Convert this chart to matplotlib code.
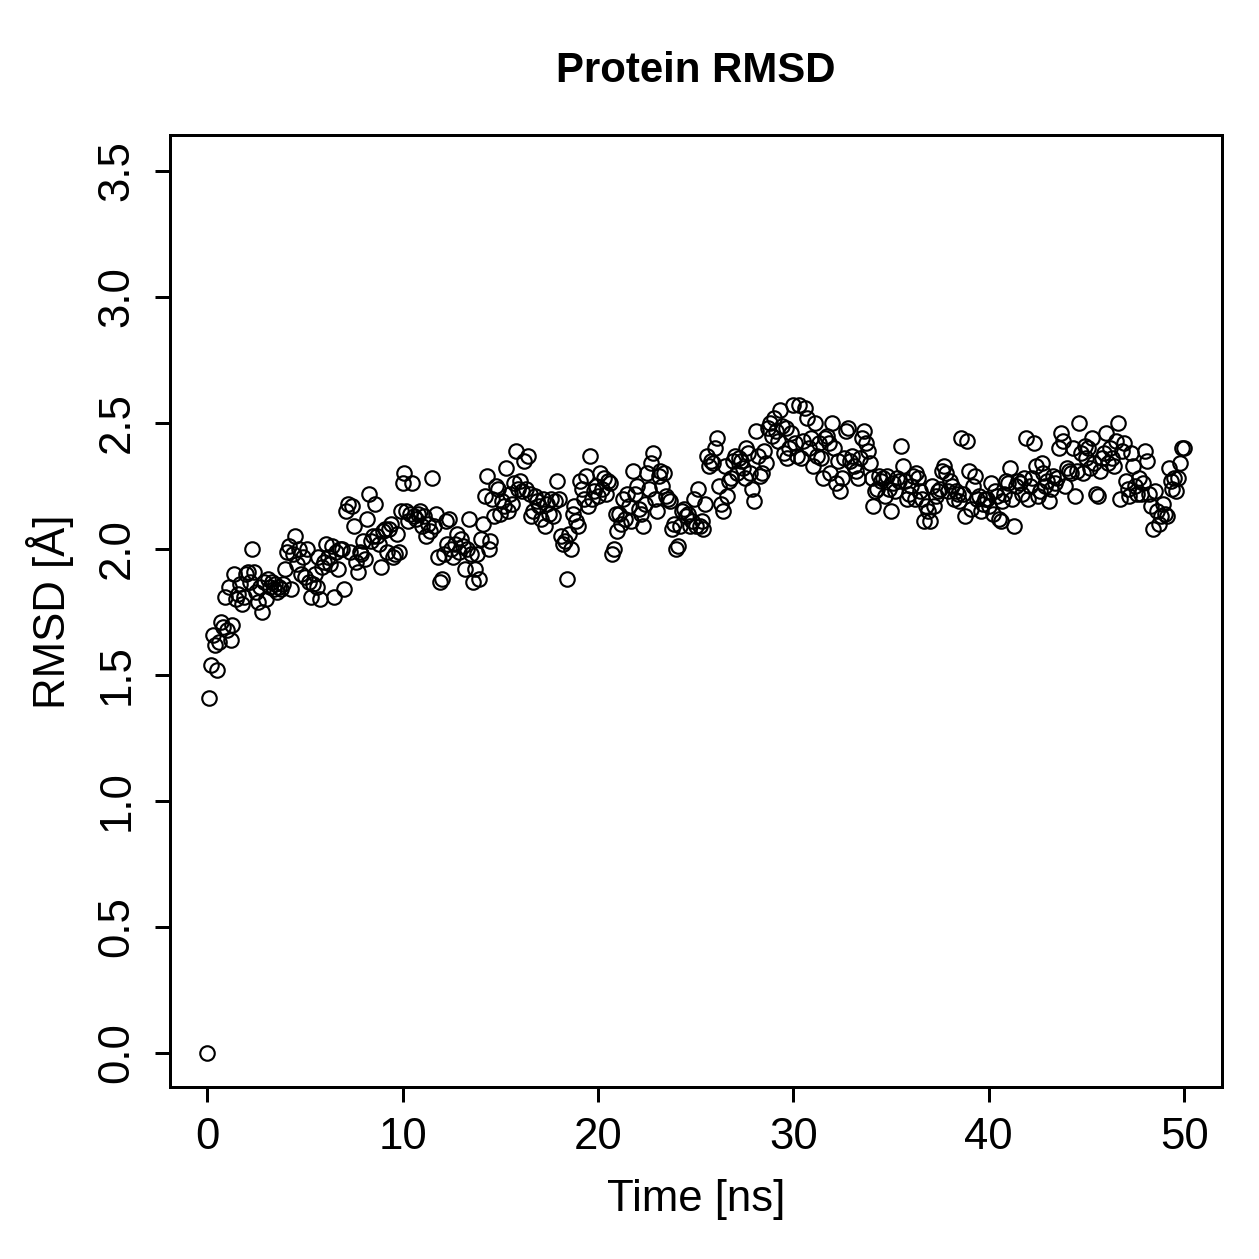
import matplotlib
matplotlib.use("Agg")
import matplotlib.pyplot as plt
import numpy as np

plt.rcParams['font.family'] = ['Liberation Sans', 'DejaVu Sans']

# RMSD values, one row per ns (frames every 0.1 ns)
rmsd_rows = [
    [0.00, 1.41, 1.54, 1.66, 1.62, 1.52, 1.63, 1.71, 1.69, 1.81],
    [1.68, 1.85, 1.64, 1.70, 1.90, 1.80, 1.82, 1.86, 1.78, 1.81],
    [1.90, 1.91, 1.87, 2.00, 1.91, 1.83, 1.79, 1.85, 1.75, 1.87],
    [1.80, 1.88, 1.85, 1.87, 1.84, 1.86, 1.83, 1.85, 1.84, 1.86],
    [1.92, 1.99, 2.01, 1.84, 1.98, 2.05, 1.94, 2.00, 1.90, 1.97],
    [1.89, 2.00, 1.87, 1.81, 1.86, 1.90, 1.85, 1.97, 1.80, 1.93],
    [1.95, 2.02, 1.97, 1.94, 2.01, 1.81, 1.99, 1.92, 2.00, 2.00],
    [1.84, 2.15, 2.18, 1.99, 2.17, 2.09, 1.95, 1.91, 1.99, 1.98],
    [2.03, 1.96, 2.12, 2.22, 2.03, 2.05, 2.18, 2.05, 2.02, 1.93],
    [2.07, 2.08, 1.99, 2.08, 2.10, 1.97, 1.98, 2.06, 1.99, 2.15],
    [2.26, 2.30, 2.15, 2.11, 2.14, 2.26, 2.13, 2.12, 2.14, 2.15],
    [2.09, 2.13, 2.05, 2.10, 2.07, 2.28, 2.09, 2.14, 1.97, 1.87],
    [1.88, 1.98, 2.11, 2.02, 2.12, 2.00, 1.97, 2.02, 2.06, 1.99],
    [2.04, 2.01, 1.92, 2.00, 2.12, 1.98, 1.87, 1.92, 1.98, 1.88],
    [2.04, 2.10, 2.21, 2.29, 2.00, 2.03, 2.20, 2.13, 2.25, 2.24],
    [2.14, 2.19, 2.17, 2.32, 2.15, 2.22, 2.18, 2.26, 2.39, 2.24],
    [2.27, 2.23, 2.35, 2.24, 2.37, 2.22, 2.13, 2.15, 2.21, 2.19],
    [2.17, 2.12, 2.20, 2.09, 2.18, 2.14, 2.20, 2.13, 2.19, 2.27],
    [2.20, 2.05, 2.02, 2.03, 1.88, 2.06, 2.00, 2.14, 2.17, 2.11],
    [2.09, 2.27, 2.24, 2.20, 2.29, 2.17, 2.37, 2.20, 2.23, 2.25],
    [2.21, 2.30, 2.24, 2.28, 2.22, 2.27, 2.26, 1.98, 2.00, 2.14],
    [2.07, 2.14, 2.10, 2.20, 2.12, 2.22, 2.17, 2.11, 2.31, 2.22],
    [2.25, 2.16, 2.14, 2.09, 2.18, 2.30, 2.24, 2.34, 2.38, 2.20],
    [2.15, 2.29, 2.31, 2.25, 2.30, 2.21, 2.20, 2.19, 2.08, 2.10],
    [2.00, 2.01, 2.09, 2.15, 2.16, 2.13, 2.14, 2.09, 2.11, 2.20],
    [2.09, 2.24, 2.09, 2.11, 2.08, 2.18, 2.37, 2.33, 2.35, 2.34],
    [2.40, 2.44, 2.25, 2.18, 2.15, 2.33, 2.21, 2.27, 2.28, 2.35],
    [2.37, 2.30, 2.36, 2.35, 2.32, 2.28, 2.40, 2.38, 2.30, 2.24],
    [2.19, 2.47, 2.37, 2.29, 2.30, 2.39, 2.34, 2.48, 2.50, 2.45],
    [2.52, 2.47, 2.43, 2.55, 2.49, 2.38, 2.48, 2.36, 2.40, 2.46],
    [2.57, 2.42, 2.37, 2.57, 2.36, 2.43, 2.56, 2.52, 2.40, 2.44],
    [2.33, 2.50, 2.37, 2.42, 2.36, 2.28, 2.44, 2.45, 2.42, 2.30],
    [2.50, 2.40, 2.26, 2.35, 2.23, 2.28, 2.36, 2.47, 2.48, 2.35],
    [2.37, 2.33, 2.31, 2.28, 2.36, 2.44, 2.47, 2.42, 2.39, 2.34],
    [2.28, 2.17, 2.23, 2.24, 2.29, 2.27, 2.28, 2.21, 2.29, 2.24],
    [2.15, 2.26, 2.23, 2.28, 2.27, 2.41, 2.33, 2.27, 2.20, 2.22],
    [2.25, 2.29, 2.20, 2.30, 2.28, 2.23, 2.20, 2.11, 2.17, 2.15],
    [2.11, 2.25, 2.17, 2.21, 2.23, 2.24, 2.31, 2.33, 2.30, 2.23],
    [2.27, 2.25, 2.20, 2.23, 2.22, 2.19, 2.44, 2.22, 2.13, 2.43],
    [2.31, 2.16, 2.25, 2.29, 2.20, 2.21, 2.15, 2.18, 2.20, 2.20],
    [2.17, 2.26, 2.14, 2.23, 2.21, 2.12, 2.11, 2.19, 2.22, 2.27],
    [2.26, 2.32, 2.20, 2.09, 2.25, 2.27, 2.26, 2.22, 2.28, 2.44],
    [2.20, 2.25, 2.28, 2.42, 2.33, 2.21, 2.23, 2.34, 2.30, 2.25],
    [2.27, 2.19, 2.24, 2.29, 2.26, 2.28, 2.40, 2.46, 2.43, 2.25],
    [2.32, 2.31, 2.30, 2.40, 2.21, 2.31, 2.50, 2.38, 2.30, 2.41],
    [2.36, 2.40, 2.32, 2.44, 2.34, 2.22, 2.21, 2.31, 2.36, 2.38],
    [2.46, 2.34, 2.40, 2.36, 2.33, 2.43, 2.50, 2.20, 2.39, 2.42],
    [2.27, 2.24, 2.21, 2.38, 2.33, 2.25, 2.22, 2.28, 2.22, 2.26],
    [2.39, 2.35, 2.22, 2.17, 2.08, 2.23, 2.15, 2.10, 2.13, 2.18],
    [2.14, 2.13, 2.32, 2.27, 2.24, 2.28, 2.23, 2.28, 2.34, 2.40],
    [2.40],
]
rmsd = np.array([v for row in rmsd_rows for v in row])
time_ns = np.arange(len(rmsd)) * 0.1

x_ticks = [0, 10, 20, 30, 40, 50]
y_ticks = [0.0, 0.5, 1.0, 1.5, 2.0, 2.5, 3.0, 3.5]

fig = plt.figure(figsize=(1259 / 180, 1259 / 180), dpi=180)
ax = fig.add_axes([0.135, 0.1366, 0.8357, 0.7562])

ax.plot(time_ns, rmsd, linestyle='none', marker='o', markersize=5.8,
        markerfacecolor='none', markeredgecolor='black', markeredgewidth=0.85)

ax.set_xlim(-1.9, 51.94)
ax.set_ylim(-0.135, 3.643)
ax.set_xticks(x_ticks)
ax.set_xticklabels([str(t) for t in x_ticks])
ax.set_yticks(y_ticks)
ax.set_yticklabels(['%.1f' % t for t in y_ticks], rotation=90, va='center')

for s in ax.spines.values():
    s.set_linewidth(1.2)
ax.tick_params(axis='both', direction='out', length=6, width=1.2,
               labelsize=17.5)
ax.tick_params(axis='x', pad=6)
ax.tick_params(axis='y', pad=7)

fig.text(0.553, 0.944, 'Protein RMSD', ha='center', va='center',
         fontsize=16.8, fontweight='bold')
fig.text(0.553, 0.047, 'Time [ns]', ha='center', va='center', fontsize=17.5)
fig.text(0.040, 0.514, 'RMSD [Å]', ha='center', va='center', fontsize=17.5,
         rotation=90)

fig.savefig('out.png', dpi=180)
